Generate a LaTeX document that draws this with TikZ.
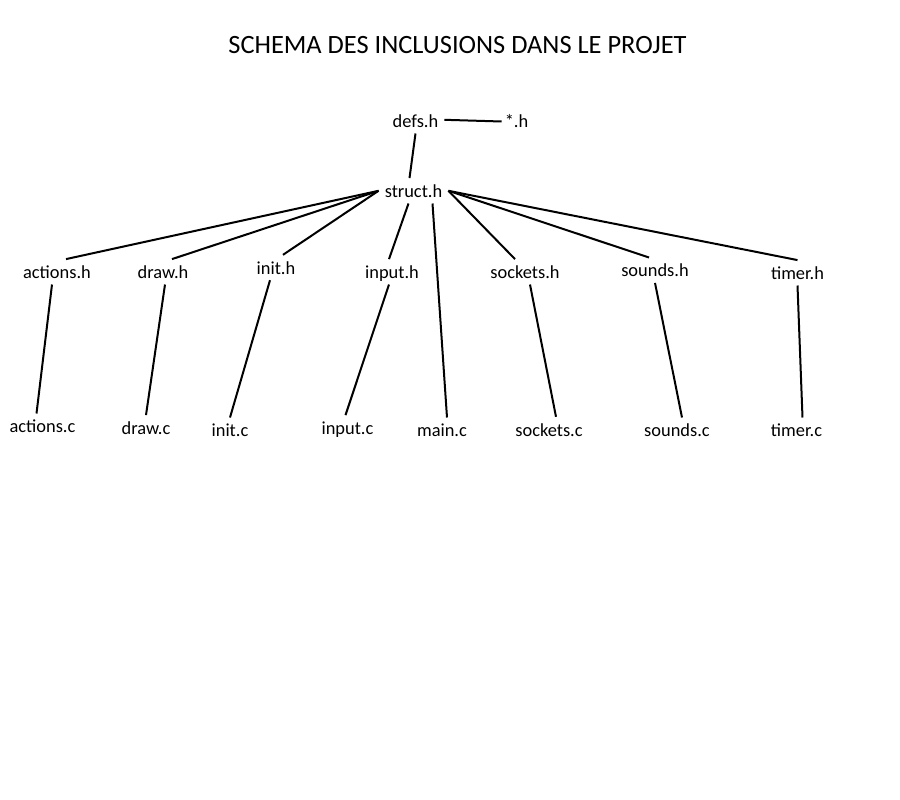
\documentclass[tikz,border=0pt]{standalone}
\usepackage{fontspec}
\setmainfont{Carlito}

\begin{document}
\begin{tikzpicture}[x=1pt, y=-1pt,
  fichier/.style={anchor=base, inner xsep=6pt, inner ysep=2pt, text height=17pt, text depth=4pt, font=\fontsize{18.4}{22}\selectfont},
  lien/.style={line width=2pt}]
  \useasboundingbox (0,0) rectangle (900,800);

  % Titre
  \node[anchor=base, font=\fontsize{26.4}{30}\selectfont] (titre) at (457.5,54) {SCHEMA DES INCLUSIONS DANS LE PROJET};

  % En-tetes communs
  \node[fichier] (defs) at (415.5,127.3) {defs.h};
  \node[fichier] (etoile) at (516.5,128) {*.h};
  \node[fichier] (struct) at (413.5,197.3) {struct.h};

  % Fichiers .h
  \node[fichier] (actionsh) at (57,278.3) {actions.h};
  \node[fichier] (drawh) at (163,278.3) {draw.h};
  \node[fichier] (inith) at (276,274) {init.h};
  \node[fichier] (inputh) at (392,278.3) {input.h};
  \node[fichier] (socketsh) at (525,278.3) {sockets.h};
  \node[fichier] (soundsh) at (655,276.7) {sounds.h};
  \node[fichier] (timerh) at (797.5,279.3) {timer.h};

  % Fichiers .c
  \node[fichier] (actionsc) at (42.5,432.7) {actions.c};
  \node[fichier] (drawc) at (146,434.3) {draw.c};
  \node[fichier] (initc) at (230,436.7) {init.c};
  \node[fichier] (inputc) at (347.5,434.3) {input.c};
  \node[fichier] (mainc) at (442,436.7) {main.c};
  \node[fichier] (socketsc) at (549,436) {sockets.c};
  \node[fichier] (soundsc) at (677,436.7) {sounds.c};
  \node[fichier] (timerc) at (796.5,436.7) {timer.c};

  % Liens entre en-tetes communs
  \draw[lien] ([yshift=1pt]defs.east) -- ([xshift=3pt]etoile.west);
  \draw[lien] (defs.south) -- ([xshift=-4pt]struct.north);

  % Liens depuis struct.h
  \draw[lien] (struct.west) -- ([xshift=9pt]actionsh.north);
  \draw[lien] (struct.west) -- ([xshift=9pt]drawh.north);
  \draw[lien] (struct.west) -- ([xshift=7pt]inith.north);
  \draw[lien] ([xshift=-5pt]struct.south) -- ([xshift=-3pt]inputh.north);
  \draw[lien] ([xshift=19pt]struct.south) -- ([xshift=5pt]mainc.north);
  \draw[lien] (struct.east) -- ([xshift=-10pt]socketsh.north);
  \draw[lien] (struct.east) -- ([xshift=-6pt]soundsh.north);
  \draw[lien] (struct.east) -- (timerh.north);

  % Liens .h vers .c
  \draw[lien] ([xshift=-5pt]actionsh.south) -- ([xshift=-6pt]actionsc.north);
  \draw[lien] ([xshift=2pt]drawh.south) -- (drawc.north);
  \draw[lien] ([xshift=-6pt]inith.south) -- (initc.north);
  \draw[lien] ([xshift=-3pt]inputh.south) -- ([xshift=-2pt]inputc.north);
  \draw[lien] ([xshift=5pt]socketsh.south) -- ([xshift=7pt]socketsc.north);
  \draw[lien] (soundsh.south) -- ([xshift=5pt]soundsc.north);
  \draw[lien] (timerh.south) -- ([xshift=6pt]timerc.north);
\end{tikzpicture}
\end{document}
